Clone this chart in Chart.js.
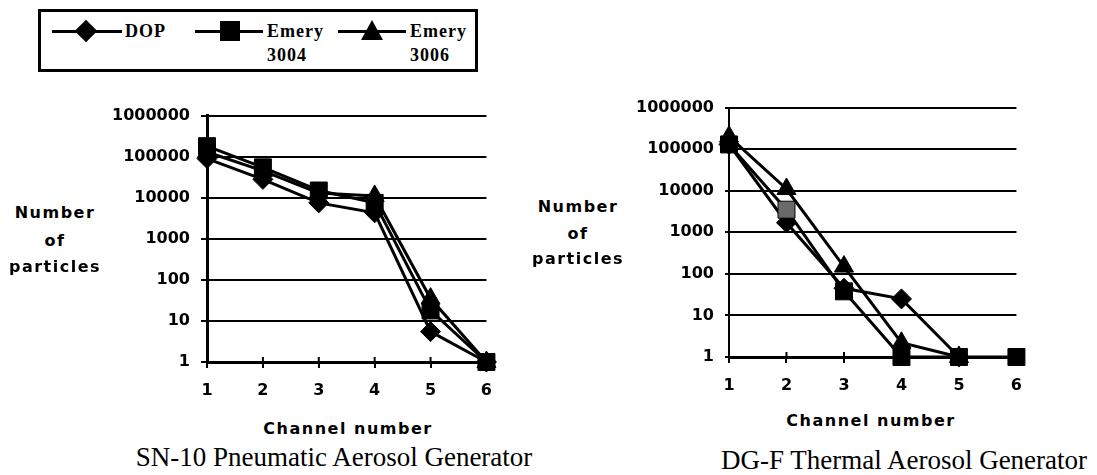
<!DOCTYPE html>
<html lang="en">
<head>
<meta charset="UTF-8">
<title>Number of particles per channel</title>
<script src="https://cdn.jsdelivr.net/npm/chart.js"></script>
<style>
    body { margin: 0; background: #fff; width: 1097px; height: 475px; position: relative; overflow: hidden; color: #000; }
    canvas { position: absolute; }
    .t { position: absolute; white-space: nowrap; transform: translate(-50%, -50%); }
    .axisTitle { font-family: "DejaVu Sans", sans-serif; font-weight: bold; font-size: 16px; letter-spacing: 1.5px; }
    .chTitle { font-family: "DejaVu Sans", sans-serif; font-weight: bold; font-size: 16px; letter-spacing: 1.5px; }
    .caption { font-family: "Liberation Serif", serif; font-size: 27px; }
    #legendBox { position: absolute; left: 38px; top: 9px; width: 440px; height: 63px; border: 3px solid #000; box-sizing: border-box; }
    .lg { position: absolute; }
    .lgLine { height: 3px; background: #000; }
    .lgText { font-family: "Liberation Serif", serif; font-weight: bold; font-size: 18px; letter-spacing: 1px; transform: translateY(-50%); white-space: nowrap; }
</style>
</head>
<body>
    <div id="legendBox"></div>
    <div class="lg lgLine" style="left:52px; top:30px; width:70px;"></div>
    <div class="lg" style="left:78px; top:23px; width:16px; height:16px; background:#000; transform:rotate(45deg);"></div>
    <div class="lg lgText" style="left:125px; top:31px;">DOP</div>
    <div class="lg lgLine" style="left:195px; top:30px; width:68px;"></div>
    <div class="lg" style="left:220px; top:21px; width:20px; height:20px; background:#000;"></div>
    <div class="lg lgText" style="left:267px; top:31px;">Emery</div>
    <div class="lg lgText" style="left:267px; top:55px;">3004</div>
    <div class="lg lgLine" style="left:338px; top:30px; width:68px;"></div>
    <div class="lg" style="left:361px; top:20px; width:0; height:0; border-left:11px solid transparent; border-right:11px solid transparent; border-bottom:20px solid #000;"></div>
    <div class="lg lgText" style="left:410px; top:31px;">Emery</div>
    <div class="lg lgText" style="left:410px; top:55px;">3006</div>

    <canvas id="snChart" width="405" height="310" style="left:100px; top:95px;"></canvas>
    <canvas id="dgChart" width="415" height="310" style="left:620px; top:87px;"></canvas>

    <div class="t axisTitle" style="left:55px; top:212px;">Number</div>
    <div class="t axisTitle" style="left:55px; top:240px;">of</div>
    <div class="t axisTitle" style="left:55px; top:266px;">particles</div>
    <div class="t chTitle" style="left:348px; top:428px;">Channel number</div>
    <div class="t caption" style="left:334px; top:457px;">SN-10 Pneumatic Aerosol Generator</div>

    <div class="t axisTitle" style="left:578px; top:206px;">Number</div>
    <div class="t axisTitle" style="left:578px; top:233px;">of</div>
    <div class="t axisTitle" style="left:578px; top:258px;">particles</div>
    <div class="t chTitle" style="left:871px; top:420px;">Channel number</div>
    <div class="t caption" style="left:904px; top:460px;">DG-F Thermal Aerosol Generator</div>

<script>
    const channels = [1, 2, 3, 4, 5, 6];
    const yTickValues = [1, 10, 100, 1000, 10000, 100000, 1000000];

    // SN-10 Pneumatic Aerosol Generator
    const snDop = [90000, 28000, 7500, 4300, 5.5, 1];
    const snEmery3004 = [180000, 55000, 15000, 7500, 18, 1];
    const snEmery3006 = [130000, 45000, 13000, 11000, 35, 1];

    // DG-F Thermal Aerosol Generator
    const dgDop = [130000, 1700, 45, 25, 1, null];
    const dgEmery3004 = [130000, 3500, 38, 1, 1, 1];
    const dgEmery3006 = [200000, 11000, 150, 2.2, 1, null];

    const tickFont = { family: 'DejaVu Sans', weight: 'bold', size: 16 };

    // small marks crossing the x axis
    const crossTicks = {
        id: 'crossTicks',
        beforeDatasetsDraw(chart) {
            const { ctx, chartArea } = chart;
            const x = chart.scales.x;
            ctx.save();
            ctx.strokeStyle = '#000';
            ctx.lineWidth = 2;
            channels.forEach(c => {
                const px = x.getPixelForValue(c);
                ctx.beginPath();
                ctx.moveTo(px, chartArea.bottom - 5);
                ctx.lineTo(px, chartArea.bottom);
                ctx.stroke();
            });
            ctx.restore();
        }
    };

    function makeChart(id, dop, e3004, e3006, g) {
        const pts = vals => channels.map((c, i) => ({ x: c, y: vals[i] }));
        return new Chart(document.getElementById(id), {
            type: 'line',
            data: {
                datasets: [
                    { label: 'DOP', data: pts(dop), pointStyle: 'rectRot', pointRadius: 10, order: 2, clip: false },
                    { label: 'Emery 3004', data: pts(e3004), pointStyle: 'rect', pointRadius: 12, order: 0, clip: false,
                      pointBackgroundColor: g.squareFill || '#000' },
                    { label: 'Emery 3006', data: pts(e3006), pointStyle: 'triangle', pointRadius: 11, order: 1, clip: false }
                ]
            },
            options: {
                responsive: false,
                animation: false,
                events: [],
                layout: { padding: { top: g.padTop, right: g.padRight, left: 0, bottom: 0 } },
                plugins: { legend: { display: false }, tooltip: { enabled: false } },
                elements: {
                    line: { borderColor: '#000', borderWidth: 3, tension: 0 },
                    point: { backgroundColor: '#000', borderColor: '#000', borderWidth: 1 }
                },
                scales: {
                    x: {
                        type: 'linear', min: 1, max: 6,
                        afterBuildTicks: s => { s.ticks = channels.map(v => ({ value: v })); },
                        afterFit: s => { s.height = g.xAxisH; },
                        grid: { drawOnChartArea: false, color: '#000', lineWidth: 2, tickLength: 6 },
                        border: { color: '#000', width: 3 },
                        ticks: { color: '#000', font: tickFont, padding: g.xPad, maxRotation: 0 }
                    },
                    y: {
                        type: 'logarithmic', min: 1, max: 1000000,
                        afterBuildTicks: s => { s.ticks = yTickValues.map(v => ({ value: v })); },
                        afterFit: s => { s.width = g.yAxisW; },
                        grid: { color: '#000', lineWidth: 2, tickLength: g.yTick },
                        border: { color: '#000', width: g.yBorder },
                        ticks: { color: '#000', font: tickFont, padding: g.yPad, callback: v => String(v) }
                    }
                }
            },
            plugins: [crossTicks]
        });
    }

    makeChart('snChart', snDop, snEmery3004, snEmery3006,
        { padTop: 18, padRight: 15, xAxisH: 43, yAxisW: 107, xPad: 13, yPad: 11, yTick: 6, yBorder: 3 });
    makeChart('dgChart', dgDop, dgEmery3004, dgEmery3006,
        { padTop: 18, padRight: 16, xAxisH: 40, yAxisW: 109, xPad: 13, yPad: 11, yTick: 4, yBorder: 2,
          squareFill: ['#000', '#6a6a6a', '#000', '#000', '#000', '#000'] });
</script>
</body>
</html>
